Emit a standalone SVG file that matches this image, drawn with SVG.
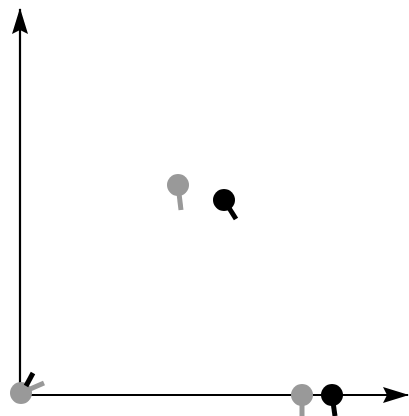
<svg xmlns="http://www.w3.org/2000/svg" width="409" height="416" viewBox="0 0 409 416">
<style>
.axis{stroke:#000;stroke-width:2.2;fill:none}
.g{fill:#999}
.gs{stroke:#999;stroke-width:5;stroke-linecap:butt}
.b{fill:#000}
.bs{stroke:#000;stroke-width:5;stroke-linecap:butt}
</style>
<defs>
<marker id="ah" viewBox="0 0 26 16" refX="25" refY="8" markerWidth="26" markerHeight="16" markerUnits="userSpaceOnUse" orient="auto">
<path d="M0,0 L26,8 L0,16 L4,8 Z" fill="#000"/>
</marker>
</defs>
<g id="connectors">
<line class="axis" x1="20" y1="395" x2="20" y2="9" marker-end="url(#ah)"/>
<line class="axis" x1="20" y1="395" x2="408" y2="395" marker-end="url(#ah)"/>
</g>
<g id="origin-gray">
<line class="gs" x1="21" y1="393" x2="44" y2="383"/>
<circle class="g" cx="21" cy="393" r="11"/>
</g>
<g id="origin-black">
<line class="bs" x1="26" y1="386" x2="33" y2="373"/>
</g>
<g id="mid-gray">
<line class="gs" x1="178" y1="185" x2="181" y2="210"/>
<circle class="g" cx="178" cy="185" r="11"/>
</g>
<g id="mid-black">
<line class="bs" x1="224" y1="200" x2="236" y2="219"/>
<circle class="b" cx="224" cy="200" r="11"/>
</g>
<g id="axis-gray">
<line class="gs" x1="302" y1="395" x2="302" y2="416"/>
<circle class="g" cx="302" cy="395" r="11"/>
</g>
<g id="axis-black">
<line class="bs" x1="332" y1="395" x2="335" y2="416"/>
<circle class="b" cx="332" cy="395" r="11"/>
</g>
</svg>
